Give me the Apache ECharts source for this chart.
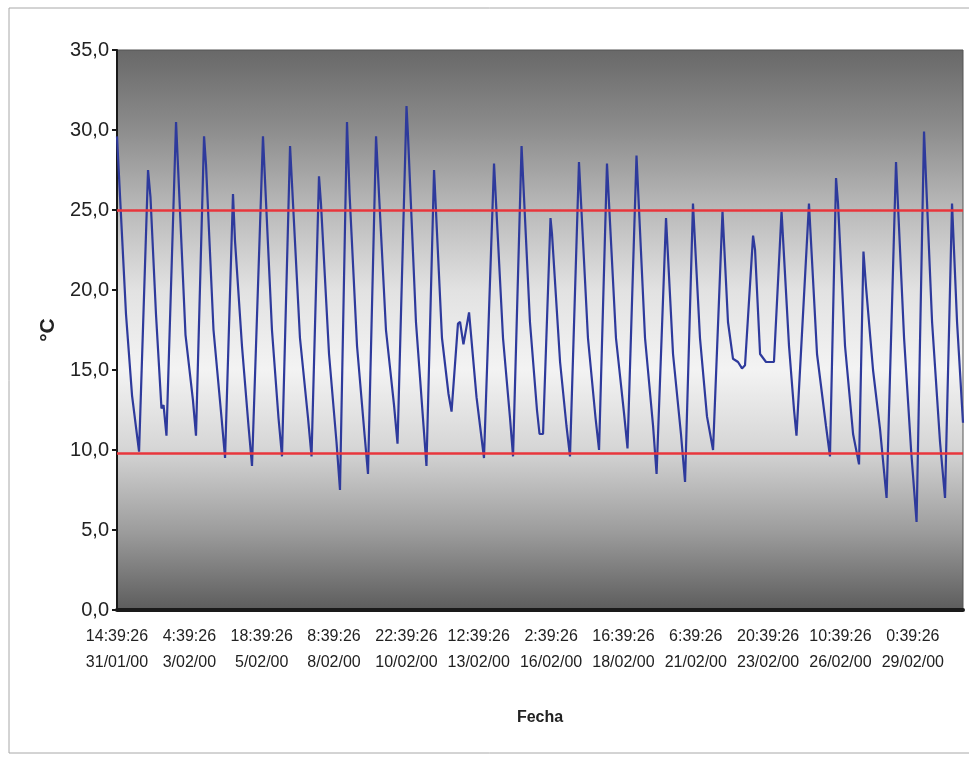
<!DOCTYPE html>
<html>
<head>
<meta charset="utf-8">
<script src="https://cdn.jsdelivr.net/npm/echarts@6/dist/echarts.min.js"></script>
<style>
  html, body { margin: 0; padding: 0; background: #fff; }
  #chart { width: 969px; height: 758px; }
</style>
</head>
<body>
<div id="chart"></div>
<script>
// horas desde 31/01/00 14:39:26
let hours = [
  0, 7.7, 12.9, 18.9, 26.6, 28.7, 33.4, 38.1, 39.9, 42.4,
  50.6, 58.7, 65.1, 67.7, 74.6, 76.3, 82.7, 89.6, 92.6, 99.4,
  101.1, 107.1, 112.7, 115.7, 125.1, 132.8, 138.4, 141.4, 148.3, 156.8,
  163.7, 166.7, 173.1, 174.8, 181.7, 188.1, 191.1, 197.1, 199.3, 205.7,
  212.1, 215.1, 222.0, 230.5, 237.4, 240.4, 248.1, 249.4, 256.2, 262.7,
  265.2, 271.7, 278.5, 284.1, 286.7, 292.2, 294.0, 296.9, 301.7, 308.1,
  314.5, 323.1, 330.8, 336.8, 339.4, 346.7, 353.9, 359.9, 362.1, 365.1,
  371.5, 372.8, 379.7, 385.2, 388.2, 395.9, 403.6, 410.1, 413.1, 419.9,
  427.6, 434.5, 437.5, 445.2, 452.5, 459.4, 462.4, 470.5, 476.5, 483.3,
  486.8, 493.6, 499.6, 505.6, 510.8, 518.9, 523.6, 527.9, 532.2, 535.6,
  538.2, 545.1, 546.8, 551.1, 556.2, 563.0, 569.5, 575.9, 580.2, 582.3,
  593.0, 599.9, 607.6, 611.0, 616.2, 617.9, 623.9, 630.8, 635.9, 639.7,
  641.9, 647.9, 653.9, 659.5, 667.6, 674.5, 680.5, 685.2, 691.6, 698.5,
  705.3, 709.6, 715.6, 719.9, 725.0
];
// temperatura (°C)
let temps = [
  29.6, 18.5, 13.4, 9.9, 27.5, 25.8, 18.5, 12.6, 12.8, 10.9,
  30.5, 17.2, 13.1, 10.9, 29.6, 27.8, 17.5, 12.0, 9.5, 26.0,
  23.1, 16.5, 11.5, 9.0, 29.6, 17.5, 12.0, 9.6, 29.0, 17.0,
  12.0, 9.6, 27.1, 25.4, 16.0, 10.5, 7.5, 30.5, 26.0, 16.5,
  11.0, 8.5, 29.6, 17.5, 12.8, 10.4, 31.5, 29.6, 18.0, 11.5,
  9.0, 27.5, 17.0, 13.5, 12.4, 17.9, 18.0, 16.6, 18.6, 13.3,
  9.5, 27.9, 17.0, 12.0, 9.6, 29.0, 18.0, 12.5, 11.0, 11.0,
  24.5, 23.5, 15.5, 11.5, 9.6, 28.0, 17.0, 12.0, 10.0, 27.9,
  17.0, 12.3, 10.1, 28.4, 17.0, 11.5, 8.5, 24.5, 16.0, 11.0,
  8.0, 25.4, 17.0, 12.1, 10.0, 24.9, 18.0, 15.7, 15.5, 15.1,
  15.3, 23.4, 22.5, 16.0, 15.5, 15.5, 24.9, 16.5, 12.5, 10.9,
  25.4, 16.0, 11.5, 9.6, 27.0, 25.4, 16.5, 11.0, 9.1, 22.4,
  20.2, 15.0, 11.3, 7.0, 28.0, 17.0, 10.0, 5.5, 29.9, 18.0,
  10.5, 7.0, 25.4, 18.0, 11.7
];
// etiquetas del eje X (cada 62 horas)
let labelTimes = ['14:39:26', '4:39:26', '18:39:26', '8:39:26', '22:39:26', '12:39:26',
  '2:39:26', '16:39:26', '6:39:26', '20:39:26', '10:39:26', '0:39:26'];
let labelDates = ['31/01/00', '3/02/00', '5/02/00', '8/02/00', '10/02/00', '13/02/00',
  '16/02/00', '18/02/00', '21/02/00', '23/02/00', '26/02/00', '29/02/00'];
// límites (líneas rojas)
let limits = [25, 9.8];

let labelStep = 62;
let fontFam = 'Arial, "Liberation Sans", sans-serif';

let myChart = echarts.init(document.getElementById('chart'), null, { renderer: 'canvas' });

let option = {
  animation: false,
  backgroundColor: '#fff',
  graphic: [{
    type: 'rect',
    shape: { x: 9, y: 8, width: 990, height: 745 },
    style: { fill: 'none', stroke: '#a8a8a8', lineWidth: 1 },
    silent: true,
    z: -1
  }],
  grid: {
    left: 117,
    right: 6,
    top: 50,
    bottom: 148,
    show: true,
    borderColor: '#555',
    borderWidth: 1,
    backgroundColor: new echarts.graphic.LinearGradient(0, 0, 0, 1, [
      { offset: 0, color: '#686868' },
      { offset: 0.14, color: '#8c8c8c' },
      { offset: 0.28, color: '#b8b8b8' },
      { offset: 0.43, color: '#e2e2e2' },
      { offset: 0.57, color: '#f3f3f3' },
      { offset: 0.71, color: '#d6d6d6' },
      { offset: 0.86, color: '#9c9c9c' },
      { offset: 1, color: '#5c5c5c' }
    ])
  },
  xAxis: {
    type: 'value',
    min: 0,
    max: 725,
    interval: labelStep,
    name: 'Fecha',
    nameLocation: 'middle',
    nameGap: 100,
    nameTextStyle: { fontFamily: fontFam, fontSize: 16, fontWeight: 'bold', color: '#222' },
    axisLine: { show: true, lineStyle: { color: '#1a1a1a', width: 4 } },
    axisTick: { show: false },
    splitLine: { show: false },
    axisLabel: {
      margin: 14,
      fontFamily: fontFam,
      fontSize: 16,
      lineHeight: 26,
      color: '#222',
      showMaxLabel: false,
      formatter: function (v) {
        let k = Math.round(v / labelStep);
        if (!labelTimes[k]) return '';
        return labelTimes[k] + '\n' + labelDates[k];
      }
    }
  },
  yAxis: {
    type: 'value',
    min: 0,
    max: 35,
    interval: 5,
    name: '°C',
    nameLocation: 'middle',
    nameGap: 58,
    nameRotate: 90,
    nameTextStyle: { fontFamily: fontFam, fontSize: 21, fontWeight: 'bold', color: '#222' },
    axisLine: { show: true, lineStyle: { color: '#1a1a1a', width: 2 } },
    axisTick: { show: true, inside: false, length: 5, lineStyle: { color: '#1a1a1a', width: 2 } },
    splitLine: { show: false },
    axisLabel: {
      margin: 8,
      fontFamily: fontFam,
      fontSize: 20,
      color: '#222',
      formatter: function (v) {
        return v.toFixed(1).replace('.', ',');
      }
    }
  },
  series: [{
    type: 'line',
    data: hours.map((h, i) => [h, temps[i]]),
    symbol: 'none',
    smooth: false,
    lineStyle: { color: '#2e3a9c', width: 2.2 },
    z: 3,
    markLine: {
      silent: true,
      symbol: ['none', 'none'],
      label: { show: false },
      lineStyle: { color: '#e8363c', width: 2.5, type: 'solid' },
      data: limits.map(v => ({ yAxis: v }))
    }
  }]
};
myChart.setOption(option);
</script>
</body>
</html>
